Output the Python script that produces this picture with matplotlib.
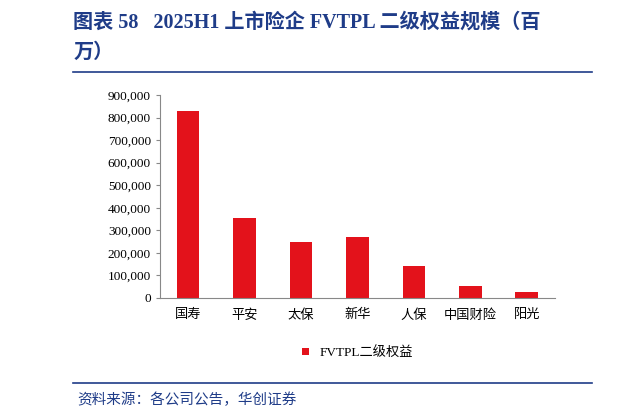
import matplotlib
matplotlib.use("Agg")
import matplotlib.pyplot as plt
from matplotlib.lines import Line2D

plt.rcParams['font.family'] = ['Liberation Serif', 'Noto Sans CJK SC']

companies = ['国寿', '平安', '太保', '新华', '人保', '中国财险', '阳光']
fvtpl_equity = [830000, 355000, 248000, 272000, 143000, 53000, 28000]
yticks = list(range(0, 900001, 100000))

fig = plt.figure(figsize=(6.2, 4.19), dpi=100)
ax = fig.add_axes([0.258, 0.289, 0.637, 0.484])
ax.bar(range(len(companies)), fvtpl_equity, width=0.4, color='#E3121B', label='FVTPL二级权益')
ax.set_xlim(-0.5, len(companies) - 0.5)
ax.set_ylim(0, 900000)
ax.set_yticks(yticks)
ax.set_yticklabels([f'{v:,}' for v in yticks], fontsize=9.5)
ax.set_xticks(range(len(companies)))
ax.set_xticklabels(companies, fontsize=9.5)
for s in ['top', 'right']:
    ax.spines[s].set_visible(False)
ax.spines['left'].set_color('#888888')
ax.spines['bottom'].set_color('#888888')
ax.tick_params(axis='x', length=0, pad=8)
ax.tick_params(axis='y', length=3, color='#888888')

ax.legend(loc='upper center', bbox_to_anchor=(0.5, -0.18), frameon=False,
          fontsize=9.5, handlelength=0.5, handleheight=0.5)

blue = '#1F3C88'
fig.text(0.118, 0.945, '图表 58   2025H1 上市险企 FVTPL 二级权益规模（百', fontsize=14.5,
         fontweight='bold', color=blue, va='center')
fig.text(0.118, 0.875, '万）', fontsize=14.5, fontweight='bold', color=blue, va='center')
fig.add_artist(Line2D([0.118, 0.955], [0.828, 0.828], color=blue, lw=1.2))
fig.add_artist(Line2D([0.118, 0.955], [0.087, 0.087], color=blue, lw=1.2))
fig.text(0.125, 0.045, '资料来源：各公司公告，华创证券', fontsize=10.5, style='italic',
         color=blue, va='center')

fig.savefig('out.png', dpi=100)
